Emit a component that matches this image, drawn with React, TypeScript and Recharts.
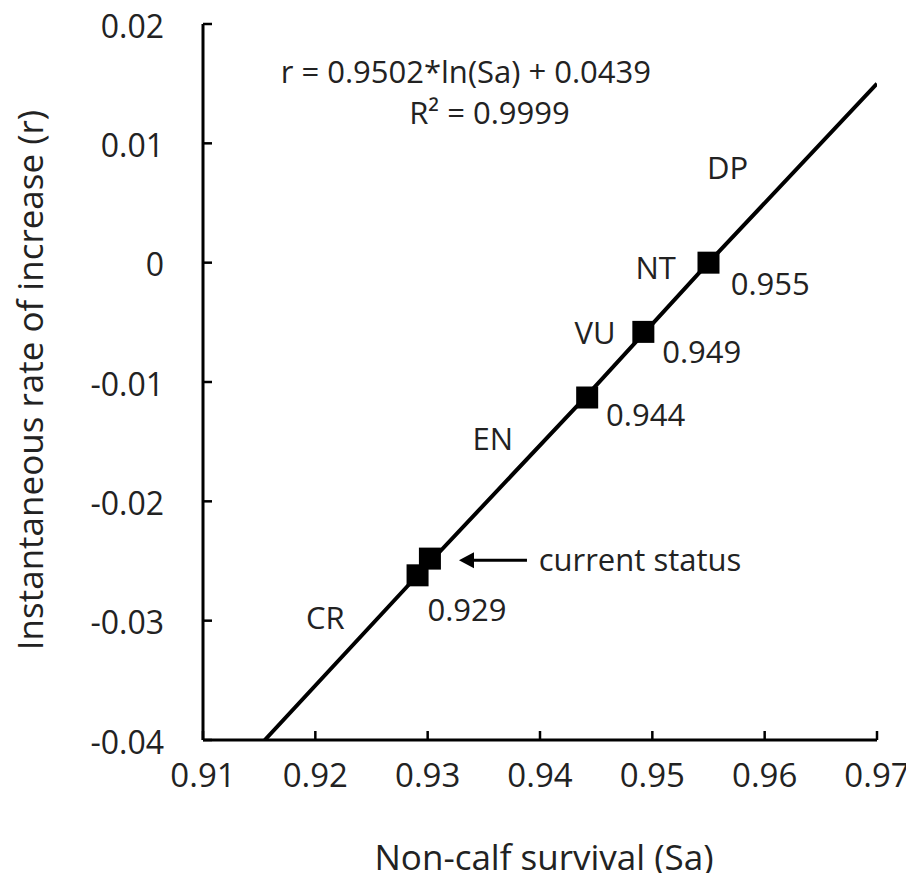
import React from "react";
import {
  ComposedChart,
  Line,
  Scatter,
  XAxis,
  YAxis,
  ReferenceDot,
  Label,
} from "recharts";

const FONT = "'Open Sans', sans-serif";
const TEXT = "#222";

const X_TICKS = [0.91, 0.92, 0.93, 0.94, 0.95, 0.96, 0.97];
const Y_TICKS = [-0.04, -0.03, -0.02, -0.01, 0, 0.01, 0.02];

// fitted curve
const fitSa = [0.9155, 0.929, 0.944, 0.955, 0.97];
const fitR = [-0.04, -0.0263, -0.0113, 0.0, 0.015];

// threshold markers
const pointSa = [0.9291, 0.9302, 0.9442, 0.9492, 0.955];
const pointR = [-0.0262, -0.0248, -0.0113, -0.0058, 0.0];

// text annotations (data coordinates)
const noteText = ["DP", "NT", "VU", "EN", "CR", "0.955", "0.949", "0.944", "0.929"];
const noteSa = [0.9567, 0.9503, 0.9449, 0.9358, 0.9209, 0.9605, 0.9544, 0.9494, 0.9335];
const noteR = [0.008, -0.0004, -0.0058, -0.0147, -0.0297, -0.0017, -0.0074, -0.0127, -0.029];

const fitData = fitSa.map((x, i) => ({ x, y: fitR[i] }));
const pointData = pointSa.map((x, i) => ({ x, y: pointR[i] }));

const XTick = (props: any) => {
  const { x, y, payload } = props;
  const axisY = y - 34;
  return (
    <g>
      <line x1={x} x2={x} y1={axisY} y2={axisY - 9} stroke="#000" strokeWidth={2.5} />
      <text x={x} y={y} textAnchor="middle" dominantBaseline="central" fontSize={33} fill={TEXT} fontFamily={FONT}>
        {payload.value.toFixed(2)}
      </text>
    </g>
  );
};

const YTick = (props: any) => {
  const { x, y, payload } = props;
  const axisX = x + 39;
  const v = payload.value;
  return (
    <g>
      <line x1={axisX} x2={axisX + 9} y1={y} y2={y} stroke="#000" strokeWidth={2.5} />
      <text x={x} y={y + 1} textAnchor="end" dominantBaseline="central" fontSize={32} fill={TEXT} fontFamily={FONT}>
        {v === 0 ? "0" : v.toFixed(2)}
      </text>
    </g>
  );
};

const SquareShape = (props: any) => {
  const { cx, cy } = props;
  return <rect x={cx - 11} y={cy - 11} width={22} height={22} fill="#000" />;
};

const noteLabel = (text: string, size = 31) => (props: any) => {
  const { viewBox } = props;
  return (
    <text x={viewBox.x} y={viewBox.y} textAnchor="middle" dominantBaseline="central" fontSize={size} fill={TEXT} fontFamily={FONT}>
      {text}
    </text>
  );
};

const statusLabel = (props: any) => {
  const { viewBox } = props;
  const x = viewBox.x;
  const y = viewBox.y;
  return (
    <g>
      <line x1={x - 113} x2={x - 170} y1={y + 1} y2={y + 1} stroke="#000" strokeWidth={3} />
      <path d={`M ${x - 181} ${y + 1} L ${x - 166} ${y - 7} L ${x - 166} ${y + 9} Z`} fill="#000" />
      <text x={x} y={y} textAnchor="middle" dominantBaseline="central" fontSize={31} fill={TEXT} fontFamily={FONT}>
        current status
      </text>
    </g>
  );
};

const yTitle = (props: any) => {
  const { viewBox } = props;
  const cx = 29;
  const cy = viewBox.y + viewBox.height / 2 - 2;
  return (
    <text
      x={cx}
      y={cy}
      transform={`rotate(-90 ${cx} ${cy})`}
      textAnchor="middle"
      dominantBaseline="central"
      fontSize={35}
      fill={TEXT}
      fontFamily={FONT}
    >
      Instantaneous rate of increase (r)
    </text>
  );
};

const xTitle = (props: any) => {
  const { viewBox } = props;
  return (
    <text
      x={viewBox.x + viewBox.width / 2 + 4}
      y={viewBox.y + 116}
      textAnchor="middle"
      dominantBaseline="central"
      fontSize={35}
      fill={TEXT}
      fontFamily={FONT}
    >
      Non-calf survival (Sa)
    </text>
  );
};

export default function App() {
  return (
    <div style={{ margin: -8 }}>
      <ComposedChart
        width={914}
        height={881}
        margin={{ top: 24, right: 37, bottom: 0, left: 0 }}
      >
        <XAxis
          type="number"
          dataKey="x"
          domain={[0.91, 0.97]}
          ticks={X_TICKS}
          interval={0}
          allowDataOverflow
          tickSize={0}
          tickMargin={34}
          tick={<XTick />}
          axisLine={{ stroke: "#000", strokeWidth: 3 }}
          height={141}
        >
          <Label content={xTitle} />
        </XAxis>
        <YAxis
          type="number"
          dataKey="y"
          domain={[-0.04, 0.02]}
          ticks={Y_TICKS}
          interval={0}
          allowDataOverflow
          tickSize={0}
          tickMargin={39}
          tick={<YTick />}
          axisLine={{ stroke: "#000", strokeWidth: 3 }}
          width={203}
        >
          <Label content={yTitle} />
        </YAxis>
        <Line
          data={fitData}
          dataKey="y"
          stroke="#000"
          strokeWidth={4}
          dot={false}
          activeDot={false}
          isAnimationActive={false}
        />
        <Scatter data={pointData} dataKey="y" shape={<SquareShape />} isAnimationActive={false} />
        {noteText.map((t, i) => (
          <ReferenceDot key={t + i} x={noteSa[i]} y={noteR[i]} r={0} stroke="none" label={noteLabel(t)} />
        ))}
        <ReferenceDot x={0.9489} y={-0.02485} r={0} stroke="none" label={statusLabel} />
        <ReferenceDot x={0.9334} y={0.0161} r={0} stroke="none" label={noteLabel("r = 0.9502*ln(Sa) + 0.0439", 31)} />
        <ReferenceDot x={0.9355} y={0.0126} r={0} stroke="none" label={noteLabel("R² = 0.9999", 31)} />
      </ComposedChart>
    </div>
  );
}
